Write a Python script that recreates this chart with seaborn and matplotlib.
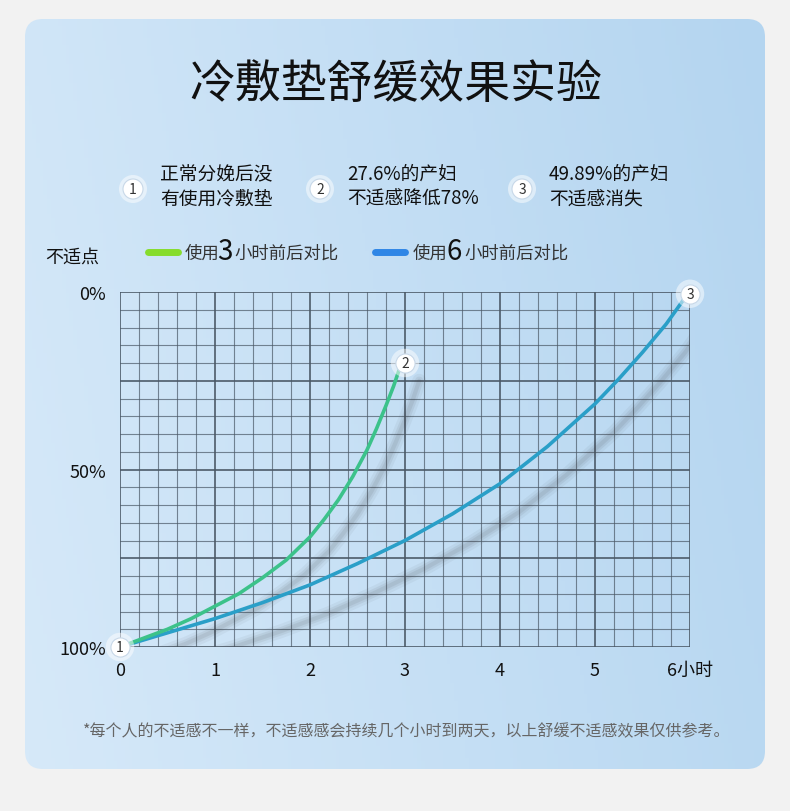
import matplotlib
matplotlib.use('Agg')
import matplotlib.pyplot as plt
from matplotlib.patches import FancyBboxPatch, Circle
import seaborn as sns
import numpy as np
import pandas as pd

sns.set_theme(style='white')
plt.rcParams['font.family'] = ['Noto Sans CJK SC', 'DejaVu Sans']

# 数据
hours_3 = [0, 0.25, 0.5, 0.75, 1, 1.25, 1.5, 1.75, 2, 2.15, 2.3, 2.45, 2.6, 2.7, 2.8, 2.88, 2.95]
discomfort_3 = [100, 97.5, 95, 92, 88.5, 85, 80.5, 75.5, 69, 64, 58.5, 52, 44.5, 38.5, 32, 26.5, 21]
hours_6 = [0, 0.5, 1, 1.5, 2, 2.5, 3, 3.5, 4, 4.5, 5, 5.25, 5.5, 5.75, 5.95]
discomfort_6 = [100, 96, 92, 87.5, 82.5, 76.5, 70, 62.5, 54, 43.5, 31.5, 24.5, 17, 9, 1.5]
x_ticks = [0, 1, 2, 3, 4, 5, 6]
x_labels = ['0', '1', '2', '3', '4', '5', '6小时']
y_ticks = [0, 50, 100]
y_labels = ['0%', '50%', '100%']
notes = ['正常分娩后没\n有使用冷敷垫', '27.6%的产妇\n不适感降低78%', '49.89%的产妇\n不适感消失']

df3 = pd.DataFrame({'h': hours_3, 'd': discomfort_3})
df6 = pd.DataFrame({'h': hours_6, 'd': discomfort_6})

fig = plt.figure(figsize=(7.9, 8.12), dpi=100)
fig.patch.set_facecolor('#f2f2f2')

# 背景卡片（渐变）
bg = fig.add_axes([0, 0, 1, 1])
bg.set_xlim(0, 790)
bg.set_ylim(812, 0)
bg.axis('off')
card = FancyBboxPatch((25, 20), 740, 750, boxstyle='round,pad=0,rounding_size=18',
                      fc='none', ec='none', transform=bg.transData)
bg.add_patch(card)
gx, gy = np.meshgrid(np.linspace(0, 1, 200), np.linspace(0, 1, 200))
grad = np.clip(0.5 * gx + 0.5 * (1 - gy) * 0.6 + 0.2 * gy, 0, 1)
img = bg.imshow(grad, extent=(25, 765, 770, 20), cmap=matplotlib.colors.LinearSegmentedColormap.from_list(
    'c', ['#d6e9f9', '#b4d5f0']), origin='upper', aspect='auto')
img.set_clip_path(card)

bg.text(396, 85, '冷敷垫舒缓效果实验', fontsize=33, ha='center', va='center', color='#111111')

for i, (cx, note) in enumerate(zip([133, 320, 522], notes)):
    bg.add_patch(Circle((cx, 190), 14, fc='white', ec='none', alpha=0.5))
    bg.add_patch(Circle((cx, 190), 10, fc='white', ec='#c8d8e8', lw=0.8))
    bg.text(cx, 190, str(i + 1), fontsize=10, ha='center', va='center', color='#333333')
    bg.text(cx + 27, 187, note, fontsize=13.5, ha='left', va='center', color='#111111', linespacing=1.25)

bg.text(72, 258, '不适点', fontsize=13, ha='center', va='center', color='#111111')
bg.plot([148, 178], [253, 253], color='#86dc2c', lw=5, solid_capstyle='round')
bg.text(185, 254, '使用', fontsize=12.5, va='center', color='#333333')
bg.text(217, 252, '3', fontsize=20, va='center', color='#111111')
bg.text(234, 254, '小时前后对比', fontsize=12.5, va='center', color='#333333')
bg.plot([375, 405], [253, 253], color='#2f86e6', lw=5, solid_capstyle='round')
bg.text(413, 254, '使用', fontsize=12.5, va='center', color='#333333')
bg.text(447, 252, '6', fontsize=20, va='center', color='#111111')
bg.text(464, 254, '小时前后对比', fontsize=12.5, va='center', color='#333333')

bg.text(407, 732, '*每个人的不适感不一样，不适感感会持续几个小时到两天，以上舒缓不适感效果仅供参考。',
        fontsize=11.5, ha='center', va='center', color='#666666')

# 主图
ax = fig.add_axes([120 / 790, 1 - 648 / 812, 570 / 790, 355 / 812])
ax.patch.set_alpha(0)
for v in np.arange(0, 6.01, 0.2):
    major = abs(v - round(v)) < 1e-6
    ax.axvline(v, color='#4a5866', lw=1.3 if major else 0.8, alpha=0.9 if major else 0.7, zorder=1)
for v in np.arange(0, 100.1, 5):
    major = v % 25 == 0
    ax.axhline(v, color='#4a5866', lw=1.3 if major else 0.8, alpha=0.9 if major else 0.7, zorder=1)

# 阴影
for lw, a in [(10, 0.05), (6, 0.07), (3, 0.08)]:
    sns.lineplot(x=df3['h'] + 0.2, y=df3['d'] + 4, color='#333333', lw=lw, alpha=a, ax=ax, zorder=2)
    sns.lineplot(x=df6['h'] + 0.2, y=df6['d'] + 8, color='#333333', lw=lw, alpha=a, ax=ax, zorder=2)
sns.lineplot(data=df6, x='h', y='d', color='#2a9fc8', lw=2.6, ax=ax, zorder=3)
sns.lineplot(data=df3, x='h', y='d', color='#3cc28a', lw=2.6, ax=ax, zorder=4)

for (px, py, lab) in [(0, 100, '1'), (hours_3[-1] + 0.05, discomfort_3[-1] - 1, '2'), (hours_6[-1] + 0.05, discomfort_6[-1] - 1, '3')]:
    ax.scatter([px], [py], s=420, color='white', alpha=0.5, zorder=5, clip_on=False, edgecolors='none')
    ax.scatter([px], [py], s=190, color='white', zorder=6, clip_on=False, edgecolors='#c8d8e8', linewidths=0.8)
    ax.text(px, py, lab, fontsize=10, ha='center', va='center', color='#333333', zorder=7)

ax.set_xlim(0, 6)
ax.set_ylim(100, 0)
ax.set_xticks(x_ticks)
ax.set_xticklabels(x_labels)
ax.set_yticks(y_ticks)
ax.set_yticklabels(y_labels)
ax.tick_params(axis='both', length=0, labelsize=13, labelcolor='#111111', pad=10)
ax.set_xlabel('')
ax.set_ylabel('')
for s in ax.spines.values():
    s.set_visible(False)

fig.savefig('out.png', dpi=100, facecolor=fig.get_facecolor())
